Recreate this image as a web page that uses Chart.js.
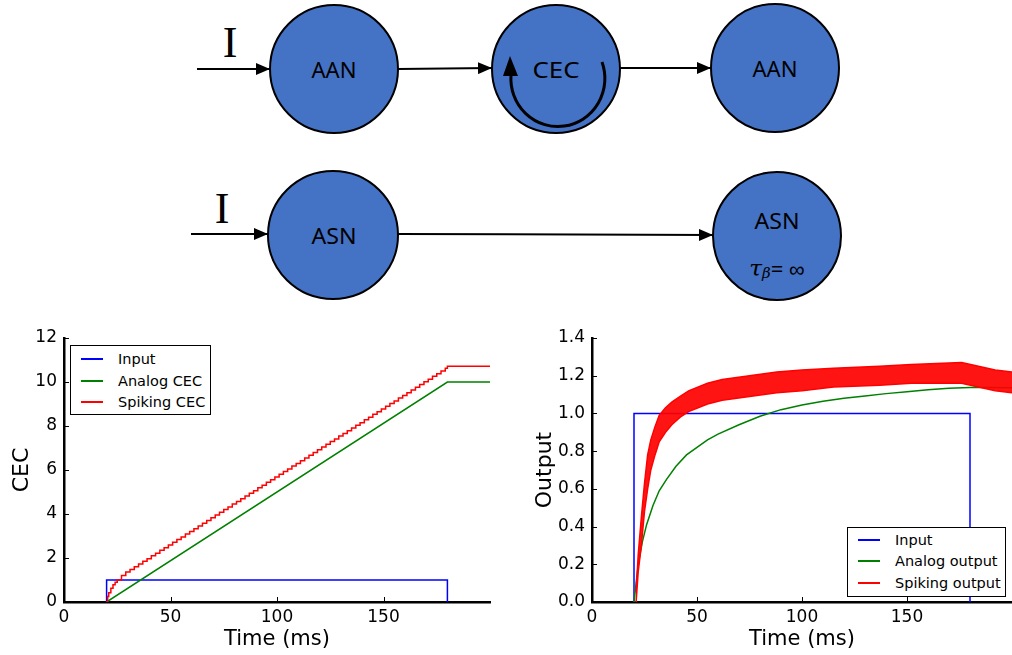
<!DOCTYPE html>
<html>
<head>
<meta charset="utf-8">
<script src="https://cdn.jsdelivr.net/npm/chart.js@4.4.0/dist/chart.umd.min.js"></script>
<style>
  html, body { margin: 0; padding: 0; background: #fff; }
  body { width: 1012px; height: 655px; position: relative; overflow: hidden; font-family: "DejaVu Sans", sans-serif; }
  #diagram { position: absolute; left: 0; top: 0; }
  .plot { position: absolute; top: 320px; height: 335px; }
  .legend { position: absolute; background: #fff; border: 1px solid #000; box-sizing: border-box; font-size: 14.5px; color: #000; }
  .legend .row { position: absolute; left: 0; height: 20px; line-height: 20px; white-space: nowrap; }
  .legend .ln { position: absolute; left: 10px; top: 9px; width: 22px; height: 1.5px; }
  .legend .tx { position: absolute; left: 47px; top: 0; }
</style>
</head>
<body>

<svg id="diagram" width="1012" height="315">
  <defs>
    <marker id="ah" markerWidth="14" markerHeight="12" refX="14" refY="6" orient="auto" markerUnits="userSpaceOnUse">
      <path d="M0,0 L14,6 L0,12 z" fill="#000"/>
    </marker>
  </defs>
  <g stroke="#000" stroke-width="2">
    <line x1="197" y1="69" x2="270" y2="69" marker-end="url(#ah)"/>
    <line x1="398" y1="69" x2="492" y2="68" marker-end="url(#ah)"/>
    <line x1="620" y1="68" x2="711" y2="68" marker-end="url(#ah)"/>
    <line x1="191" y1="234" x2="268" y2="234" marker-end="url(#ah)"/>
    <line x1="398" y1="234" x2="713" y2="235" marker-end="url(#ah)"/>
  </g>
  <g fill="#4472C4" stroke="#000" stroke-width="2">
    <ellipse cx="334" cy="69" rx="64" ry="64"/>
    <ellipse cx="556" cy="69" rx="64" ry="64"/>
    <ellipse cx="775" cy="68" rx="64" ry="64"/>
    <ellipse cx="333" cy="235" rx="65" ry="64"/>
    <ellipse cx="777" cy="236" rx="64" ry="64"/>
  </g>
  <path d="M 602 62 A 47 48 0 1 1 511 75" stroke="#000" stroke-width="3" fill="none"/>
  <polygon points="503,76 518,76 510,56" fill="#000"/>
  <g font-family="Noto Sans, sans-serif" font-size="22" fill="#000" text-anchor="middle" dominant-baseline="central">
    <text x="334" y="69" textLength="45" lengthAdjust="spacingAndGlyphs">AAN</text>
    <text x="556" y="69" textLength="47" lengthAdjust="spacingAndGlyphs">CEC</text>
    <text x="775" y="68" textLength="45" lengthAdjust="spacingAndGlyphs">AAN</text>
    <text x="334" y="235" textLength="45" lengthAdjust="spacingAndGlyphs">ASN</text>
    <text x="777" y="220" textLength="45" lengthAdjust="spacingAndGlyphs">ASN</text>
    <text x="777" y="268"><tspan font-style="italic" font-family="DejaVu Serif, serif" font-size="23">τ</tspan><tspan font-style="italic" font-family="DejaVu Serif, serif" font-size="15" dy="5">β</tspan><tspan dy="-5">= ∞</tspan></text>
  </g>
  <g font-family="Liberation Serif, serif" font-size="44" fill="#000" text-anchor="middle">
    <text x="230" y="57">I</text>
    <text x="222" y="223">I</text>
  </g>
</svg>

<div class="plot" style="left:0;width:500px"><canvas id="cecChart" width="500" height="335"></canvas></div>
<div class="plot" style="left:520px;width:492px"><canvas id="outChart" width="492" height="335"></canvas></div>
<div class="legend" id="cecLegend" style="left:70px;top:345px;width:141px;height:70px"></div>
<div class="legend" id="outLegend" style="left:847px;top:527px;width:159px;height:70px"></div>

<script>
// x ticks shared by both panels
const xTicks = [0, 50, 100, 150];

// left panel: CEC
const cecInputT = [20, 20, 180, 180];
const cecInputV = [0, 1, 1, 0];
const analogCecT = [20, 180, 200];
const analogCecV = [0, 10, 10];
const spikingCecT = [20, 20.5, 21, 22, 23, 24, 25, 27, 29, 31, 33, 35, 37, 39, 41, 43, 45, 47, 49, 51, 53, 55,
  57, 59, 61, 63, 65, 67, 69, 71, 73, 75, 77, 79, 81, 83, 85, 87, 89, 91, 93, 95, 97, 99, 101, 103, 105, 107,
  109, 111, 113, 115, 117, 119, 121, 123, 125, 127, 129, 131, 133, 135, 137, 139, 141, 143, 145, 147, 149,
  151, 153, 155, 157, 159, 161, 163, 165, 167, 169, 171, 173, 175, 177, 179, 180, 200];
const spikingCecV = [0, 0.25, 0.42, 0.62, 0.78, 0.9, 1.0, 1.2, 1.36, 1.48, 1.6, 1.73, 1.85, 1.97, 2.1, 2.22,
  2.35, 2.47, 2.59, 2.72, 2.84, 2.96, 3.09, 3.21, 3.33, 3.46, 3.58, 3.7, 3.83, 3.95, 4.08, 4.2, 4.32, 4.45,
  4.57, 4.69, 4.82, 4.94, 5.06, 5.19, 5.31, 5.44, 5.56, 5.68, 5.81, 5.93, 6.05, 6.18, 6.3, 6.42, 6.55, 6.67,
  6.8, 6.92, 7.04, 7.17, 7.29, 7.41, 7.54, 7.66, 7.78, 7.91, 8.03, 8.15, 8.28, 8.4, 8.53, 8.65, 8.77, 8.9,
  9.02, 9.14, 9.27, 9.39, 9.51, 9.64, 9.76, 9.89, 10.01, 10.13, 10.26, 10.38, 10.5, 10.63, 10.72, 10.72];
const cecYTicks = [0, 2, 4, 6, 8, 10, 12];

// right panel: output
const outInputT = [20, 20, 180, 180];
const outInputV = [0, 1, 1, 0];
const analogOutT = [20, 21, 22, 24, 26, 29, 32, 35.5, 40, 45, 50, 55, 60, 70, 80, 90, 100, 110, 120, 130,
  140, 150, 160, 170, 180, 190, 200];
const analogOutV = [0, 0.1, 0.2, 0.32, 0.41, 0.51, 0.59, 0.65, 0.72, 0.78, 0.82, 0.86, 0.89, 0.94, 0.985,
  1.02, 1.045, 1.065, 1.08, 1.093, 1.105, 1.115, 1.125, 1.133, 1.138, 1.138, 1.136];
// spiking output oscillates fast: drawn as its band (low / high envelope)
const spikingOutT = [21, 22, 23.5, 25, 26.5, 28, 30, 32, 35, 38, 42, 46, 55, 62, 75, 88, 100, 115, 137, 152,
  176, 184, 192, 200];
const spikingOutLow = [0, 0.16, 0.3, 0.48, 0.6, 0.7, 0.78, 0.85, 0.9, 0.94, 0.98, 1.01, 1.05, 1.07, 1.09,
  1.11, 1.12, 1.14, 1.15, 1.16, 1.16, 1.14, 1.12, 1.11];
const spikingOutHigh = [0.05, 0.25, 0.45, 0.63, 0.78, 0.86, 0.93, 0.99, 1.03, 1.06, 1.09, 1.12, 1.16, 1.18,
  1.2, 1.22, 1.23, 1.24, 1.25, 1.26, 1.27, 1.25, 1.23, 1.22];
const outYTicks = [0, 0.2, 0.4, 0.6, 0.8, 1.0, 1.2, 1.4];

const pts = (ts, vs) => ts.map((t, i) => ({ x: t, y: vs[i] }));

// matplotlib-style inward tick marks
const inwardTicks = {
  id: 'inwardTicks',
  afterDraw(chart) {
    const { ctx, chartArea: a } = chart;
    const xs = chart.scales.x, ys = chart.scales.y;
    ctx.save();
    ctx.strokeStyle = '#000';
    ctx.lineWidth = 1;
    ctx.beginPath();
    xs.ticks.forEach(t => {
      const px = Math.round(xs.getPixelForValue(t.value)) + 0.5;
      ctx.moveTo(px, a.bottom);
      ctx.lineTo(px, a.bottom - 5);
    });
    ys.ticks.forEach(t => {
      const py = Math.round(ys.getPixelForValue(t.value)) + 0.5;
      ctx.moveTo(a.left, py);
      ctx.lineTo(a.left + 5, py);
    });
    ctx.stroke();
    ctx.restore();
  }
};

const makeOptions = (yTicks, yTitle, yWidth, titlePad, rightPad, fmt) => ({
  responsive: false,
  animation: false,
  layout: { padding: { top: 18, right: rightPad, left: 0, bottom: 0 } },
  plugins: { legend: { display: false }, tooltip: { enabled: false } },
  elements: { point: { radius: 0 }, line: { tension: 0 } },
  scales: {
    x: {
      type: 'linear', min: 0, max: 200,
      afterBuildTicks: s => { s.ticks = xTicks.map(v => ({ value: v })); },
      afterFit: s => { s.height = 53; },
      grid: { display: false, drawTicks: false },
      border: { display: true, color: '#000', width: 2.5 },
      ticks: { color: '#000', padding: 5, maxRotation: 0, font: { family: 'DejaVu Sans', size: 17 } },
      title: { display: true, text: 'Time (ms)', color: '#000', padding: { top: 0, bottom: 3 },
        font: { family: 'DejaVu Sans', size: 21 } }
    },
    y: {
      type: 'linear', min: yTicks[0], max: yTicks[yTicks.length - 1],
      afterBuildTicks: s => { s.ticks = yTicks.map(v => ({ value: v })); },
      afterFit: s => { s.width = yWidth; },
      grid: { display: false, drawTicks: false },
      border: { display: true, color: '#000', width: 2.5 },
      ticks: { color: '#000', padding: 7, font: { family: 'DejaVu Sans', size: 17 }, callback: fmt },
      title: { display: true, text: yTitle, color: '#000', padding: { top: titlePad, bottom: 0 },
        font: { family: 'DejaVu Sans', size: 22 } }
    }
  }
});

const line = (label, data, color, extra) => Object.assign({
  label, data, borderColor: color, backgroundColor: color, borderWidth: 1.5, fill: false
}, extra || {});

const cecChart = new Chart(document.getElementById('cecChart'), {
  type: 'line',
  data: {
    datasets: [
      line('Spiking CEC', pts(spikingCecT, spikingCecV), '#ff0000', { stepped: true }),
      line('Analog CEC', pts(analogCecT, analogCecV), '#008000'),
      line('Input', pts(cecInputT, cecInputV), '#0000ff')
    ]
  },
  options: makeOptions(cecYTicks, 'CEC', 64, 9, 10, v => String(v)),
  plugins: [inwardTicks]
});

const outChart = new Chart(document.getElementById('outChart'), {
  type: 'line',
  data: {
    datasets: [
      line('Spiking output', pts(spikingOutT, spikingOutHigh), '#ff0000'),
      line('', pts(spikingOutT, spikingOutLow), '#ff0000', { fill: '-1', backgroundColor: 'rgba(255,0,0,0.92)' }),
      line('Analog output', pts(analogOutT, analogOutV), '#008000'),
      line('Input', pts(outInputT, outInputV), '#0000ff')
    ]
  },
  options: makeOptions(outYTicks, 'Output', 72, 12, 0, v => v.toFixed(1)),
  plugins: [inwardTicks]
});

// legends inside the plot areas, entries in matplotlib order
function buildLegend(el, chart, order, rows) {
  const sets = chart.data.datasets;
  order.forEach((name, i) => {
    const ds = sets.find(d => d.label === name);
    const row = document.createElement('div');
    row.className = 'row';
    row.style.top = (rows[i] - 10) + 'px';
    row.style.width = '100%';
    row.innerHTML = '<span class="ln" style="background:' + ds.borderColor + '"></span><span class="tx">' + ds.label + '</span>';
    el.appendChild(row);
  });
}
buildLegend(document.getElementById('cecLegend'), cecChart, ['Input', 'Analog CEC', 'Spiking CEC'], [13, 35, 56]);
buildLegend(document.getElementById('outLegend'), outChart, ['Input', 'Analog output', 'Spiking output'], [12, 33, 55]);
</script>
</body>
</html>
